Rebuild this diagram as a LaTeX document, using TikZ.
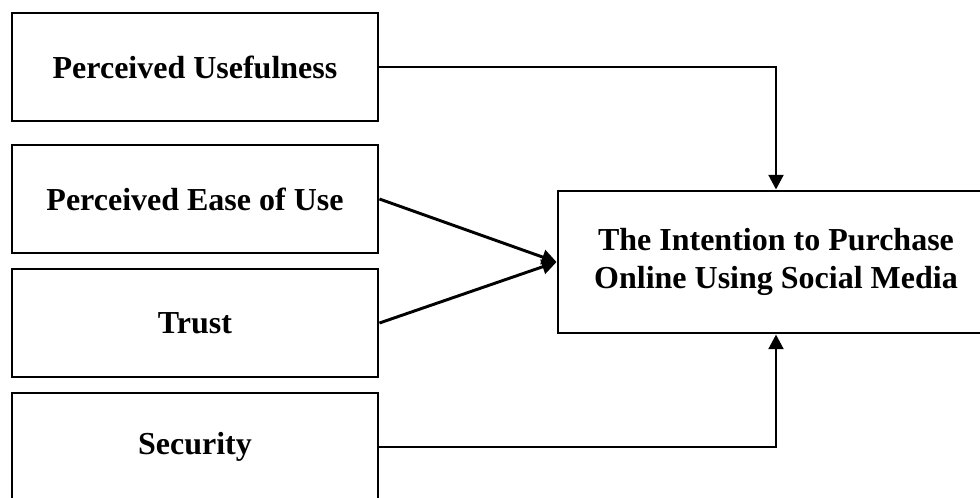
\documentclass[tikz,border=0pt]{standalone}
\usepackage{fontspec}
\setmainfont{Liberation Serif}
\usetikzlibrary{arrows.meta}
\tikzset{
  box/.style={draw=black, line width=2.2pt, fill=white, inner sep=0pt, align=center,
    font=\bfseries\fontsize{24pt}{28pt}\selectfont},
  leftbox/.style={box, minimum width=274.5pt, minimum height=81pt},
  conn/.style={line width=2.2pt, -{Triangle[length=11pt,width=11pt]}}
}
\begin{document}
\begin{tikzpicture}[x=0.75pt,y=-0.75pt]
\useasboundingbox (0,0) rectangle (980,497);
\clip (0,0) rectangle (980,497);
\fill[white] (0,0) rectangle (980,497);
\node[leftbox] (pu) at (195,67) {Perceived Usefulness};
\node[leftbox] (peou) at (195,199) {Perceived Ease of Use};
\node[leftbox] (tr) at (195,323) {Trust};
\node[leftbox] (sec) at (195,447) {Security};
\node[box, minimum width=327pt, minimum height=106.5pt] (ib) at (776,262) {The Intention to Purchase\\Online Using Social Media};
\draw[conn] (pu.east) -| (ib.north);
\draw[conn] (sec.east) -| (ib.south);
\draw[conn] (peou.east) -- (ib.west);
\draw[conn] (tr.east) -- (ib.west);
\end{tikzpicture}
\end{document}
